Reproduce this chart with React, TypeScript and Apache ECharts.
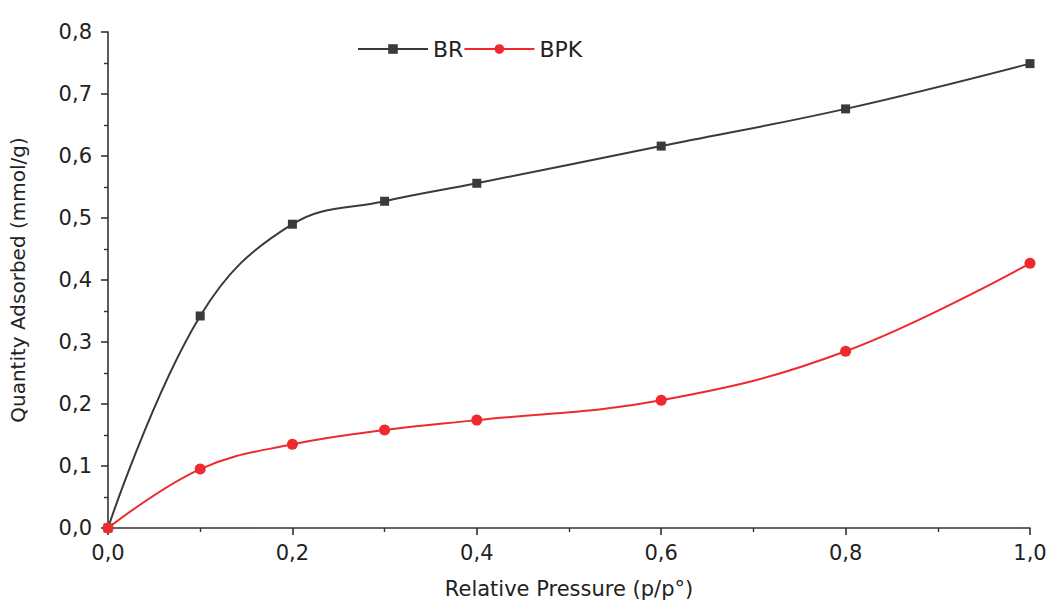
import React, { useEffect, useRef } from "react";
import * as echarts from "echarts";

const pressures = [0, 0.1, 0.2, 0.3, 0.4, 0.6, 0.8, 1.0];
const brValues = [0, 0.342, 0.49, 0.527, 0.556, 0.616, 0.676, 0.749];
const bpkValues = [0, 0.095, 0.135, 0.158, 0.174, 0.206, 0.285, 0.427];
const seriesNames = ["BR", "BPK"];
const xTitle = "Relative Pressure (p/p°)";
const yTitle = "Quantity Adsorbed (mmol/g)";

const fmt = (v: number) => v.toFixed(1).replace(".", ",");

export default function App() {
  const ref = useRef<HTMLDivElement>(null);
  useEffect(() => {
    if (!ref.current) return;
    const chart = echarts.init(ref.current, undefined, { renderer: "svg" });
    const font = "DejaVu Sans, Liberation Sans, Arial, sans-serif";
    const axisCommon = {
      axisLine: { show: true, onZero: false, lineStyle: { color: "#333", width: 1.6 } },
      axisTick: { show: true, inside: false, length: 7, lineStyle: { color: "#333", width: 1.6 } },
      minorTick: { show: true, splitNumber: 2, length: 4, lineStyle: { color: "#333", width: 1.4 } },
      splitLine: { show: false },
      axisLabel: {
        color: "#222",
        fontSize: 21,
        fontFamily: font,
        formatter: (v: number) => fmt(v),
      },
      nameTextStyle: { color: "#222", fontSize: 20, fontFamily: font },
      nameLocation: "middle" as const,
    };
    chart.setOption({
      animation: false,
      backgroundColor: "#ffffff",
      grid: { left: 107, right: 23, top: 32, bottom: 80, containLabel: false },
      legend: {
        left: 357,
        top: 38,
        padding: 0,
        itemGap: 0,
        itemWidth: 70,
        itemHeight: 12,
        textStyle: { fontSize: 22, color: "#222", fontFamily: font, padding: [0, 4, 0, 0] },
        data: seriesNames,
      },
      xAxis: {
        type: "value",
        min: 0,
        max: 1,
        interval: 0.2,
        name: xTitle,
        nameGap: 50,
        ...axisCommon,
        nameTextStyle: { ...axisCommon.nameTextStyle, fontSize: 21 },
        axisLabel: { ...axisCommon.axisLabel, margin: 14 },
      },
      yAxis: {
        type: "value",
        min: 0,
        max: 0.8,
        interval: 0.1,
        name: yTitle,
        nameGap: 80,
        ...axisCommon,
        axisLabel: { ...axisCommon.axisLabel, margin: 16 },
      },
      series: [
        {
          name: seriesNames[0],
          type: "line",
          data: pressures.map((p, i) => [p, brValues[i]]),
          smooth: 0.4,
          symbol: "rect",
          symbolSize: 9,
          color: "#3a3a3a",
          lineStyle: { color: "#3a3a3a", width: 2 },
          itemStyle: { color: "#3a3a3a" },
        },
        {
          name: seriesNames[1],
          type: "line",
          data: pressures.map((p, i) => [p, bpkValues[i]]),
          smooth: 0.4,
          symbol: "circle",
          symbolSize: 11,
          color: "#ee2a2f",
          lineStyle: { color: "#ee2a2f", width: 2 },
          itemStyle: { color: "#ee2a2f" },
        },
      ],
    });
    return () => chart.dispose();
  }, []);
  return (
    <div
      ref={ref}
      style={{ position: "fixed", left: 0, top: 0, width: 1053, height: 608 }}
    />
  );
}
